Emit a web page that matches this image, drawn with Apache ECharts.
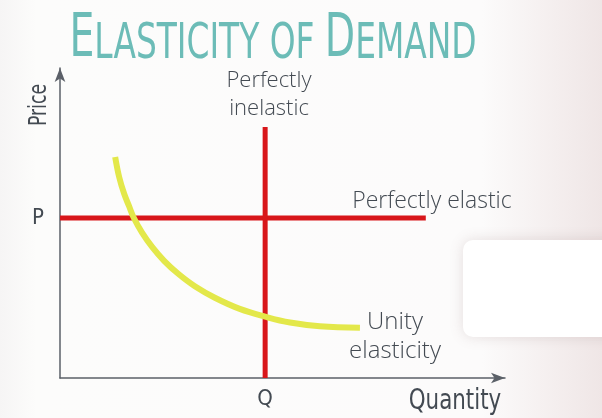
<!DOCTYPE html>
<html>
<head>
<meta charset="utf-8">
<script src="https://cdn.jsdelivr.net/npm/echarts@6/dist/echarts.min.js"></script>
<style>
  html, body { margin: 0; padding: 0; background: #fbfafa; }
  #chart { width: 602px; height: 418px; }
</style>
</head>
<body>
<div id="chart"></div>
<script>
  // demand curve (unity elasticity)
  var curveQuantity = [12.4, 13.3, 14.4, 15.5, 16.6, 18.4, 20.7, 23.4, 26.5, 30.3, 34.8, 40.4, 46.1, 51.7, 58.4, 67.4];
  var curvePrice = [71.3, 64.8, 59.5, 55.5, 51.6, 47.0, 42.3, 37.8, 33.7, 29.6, 25.9, 22.3, 19.8, 17.9, 16.7, 16.2];
  // perfectly elastic / inelastic lines
  var priceP = 51.6;
  var quantityQ = 46.1;
  var elasticEnd = 82.2;
  var inelasticTop = 81;

  var handFont = '"Open Sans", "Noto Sans", sans-serif';
  var narrowFont = '"Liberation Sans Narrow", "DejaVu Sans Condensed", Roboto, sans-serif';
  var ink = '#434a52';

  var myChart = echarts.init(document.getElementById('chart'));
  myChart.setOption({
    backgroundColor: {
      type: 'linear', x: 0, y: 0, x2: 1, y2: 0,
      colorStops: [
        { offset: 0, color: '#f6f5f5' },
        { offset: 0.06, color: '#fcfcfb' },
        { offset: 0.8, color: '#fcfbfb' },
        { offset: 1, color: '#efe6e6' }
      ]
    },
    animation: false,
    grid: { left: 60, right: 97, top: 68, bottom: 40 },
    xAxis: {
      type: 'value', min: 0, max: 100,
      splitLine: { show: false },
      axisTick: { show: false },
      axisLine: { lineStyle: { color: '#5b6068', width: 1.5 }, symbol: ['none', 'arrow'], symbolSize: [8, 14] },
      axisLabel: {
        customValues: [quantityQ],
        formatter: function () { return 'Q'; },
        color: ink, fontFamily: narrowFont, fontSize: 22, margin: 10
      }
    },
    yAxis: {
      type: 'value', min: 0, max: 100,
      splitLine: { show: false },
      axisTick: { show: false },
      axisLine: { show: true, lineStyle: { color: '#5b6068', width: 1.5 }, symbol: ['none', 'arrow'], symbolSize: [8, 14] },
      axisLabel: {
        customValues: [priceP],
        formatter: function () { return 'P'; },
        color: ink, fontFamily: narrowFont, fontSize: 22, margin: 16
      }
    },
    series: [
      {
        type: 'line', symbol: 'none',
        data: [[0, priceP], [elasticEnd, priceP]],
        lineStyle: { color: '#d8161a', width: 5 }, z: 2
      },
      {
        type: 'line', symbol: 'none',
        data: [[quantityQ, 0], [quantityQ, inelasticTop]],
        lineStyle: { color: '#d8161a', width: 5 }, z: 2
      },
      {
        type: 'line', symbol: 'none', smooth: 0.4,
        data: curveQuantity.map(function (q, i) { return [q, curvePrice[i]]; }),
        lineStyle: { color: '#e3e84a', width: 6, cap: 'butt' }, z: 3
      }
    ],
    graphic: [
      {
        type: 'rect', shape: { x: 463, y: 240, width: 160, height: 97, r: 10 },
        style: { fill: '#ffffff', shadowBlur: 14, shadowColor: 'rgba(120,90,90,0.18)' }, z: 0
      },
      {
        type: 'text', x: 273, y: 40, scaleX: 0.73,
        style: {
          text: '{a|E}{b|LASTICITY OF }{a|D}{b|EMAND}',
          align: 'center', verticalAlign: 'middle',
          fill: '#6cbcb7',
          rich: {
            a: { fontSize: 60, fontFamily: narrowFont, fill: '#6cbcb7', lineHeight: 60, verticalAlign: 'bottom' },
            b: { fontSize: 50, fontFamily: narrowFont, fill: '#6cbcb7', lineHeight: 60, verticalAlign: 'bottom' }
          }
        }
      },
      {
        type: 'text', x: 40, y: 105, rotation: Math.PI / 2, scaleX: 0.8,
        style: { text: 'Price', fontSize: 24, fontFamily: narrowFont, fill: ink, align: 'center', verticalAlign: 'middle' }
      },
      {
        type: 'text', x: 455, y: 402, scaleX: 0.85,
        style: { text: 'Quantity', fontSize: 28, fontFamily: narrowFont, fill: ink, align: 'center', verticalAlign: 'middle' }
      },
      {
        type: 'text', x: 269, y: 95,
        style: { text: 'Perfectly\ninelastic', fontSize: 22, lineHeight: 28, fontWeight: 300, fontFamily: handFont, fill: ink, align: 'center', verticalAlign: 'middle' }
      },
      {
        type: 'text', x: 432, y: 201,
        style: { text: 'Perfectly elastic', fontSize: 23, fontWeight: 300, fontFamily: handFont, fill: ink, align: 'center', verticalAlign: 'middle' }
      },
      {
        type: 'text', x: 395, y: 337,
        style: { text: 'Unity\nelasticity', fontSize: 24, lineHeight: 29, fontWeight: 300, fontFamily: handFont, fill: ink, align: 'center', verticalAlign: 'middle' }
      }
    ]
  });
</script>
</body>
</html>
